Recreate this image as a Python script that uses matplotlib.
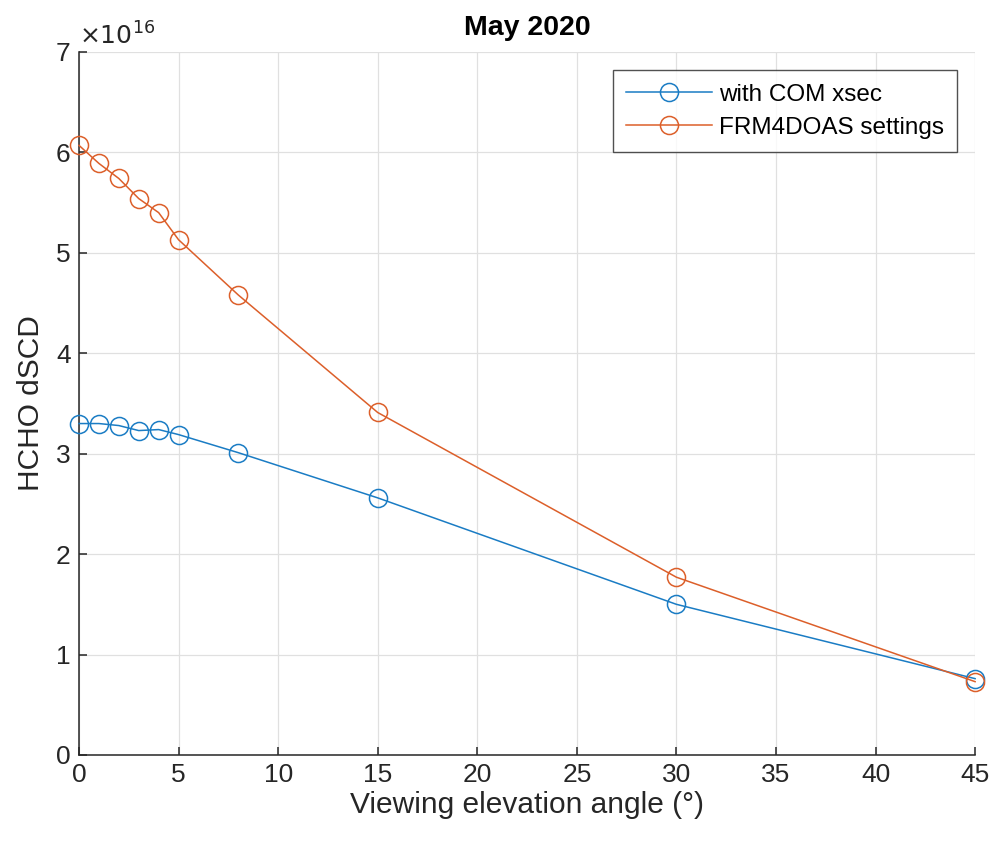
import matplotlib
matplotlib.use("Agg")
import matplotlib.pyplot as plt

plt.rcParams['font.family'] = ['Liberation Sans', 'DejaVu Sans']

angles = [0, 1, 2, 3, 4, 5, 8, 15, 30, 45]
com_xsec = [3.30, 3.30, 3.28, 3.23, 3.24, 3.19, 3.01, 2.56, 1.50, 0.76]
frm4doas = [6.07, 5.89, 5.74, 5.54, 5.40, 5.13, 4.58, 3.41, 1.77, 0.73]

fig = plt.figure(figsize=(9.95, 8.46), dpi=100)
ax = fig.add_axes([0.0794, 0.1076, 0.9006, 0.831])

blue = '#1a7cc4'
orange = '#dc5f2a'
ax.plot(angles, com_xsec, '-o', color=blue, mfc='none', ms=13, lw=1.1,
        mew=1.1, label='with COM xsec', clip_on=False, zorder=3)
ax.plot(angles, frm4doas, '-o', color=orange, mfc='none', ms=13, lw=1.1,
        mew=1.1, label='FRM4DOAS settings', clip_on=False, zorder=3)

ax.set_xlim(0, 45)
ax.set_ylim(0, 7)
ax.set_xticks(range(0, 46, 5))
ax.set_yticks(range(0, 8))
ax.grid(True, color='#e0e0e0', lw=0.9)
ax.set_axisbelow(True)

for s in ['top', 'right']:
    ax.spines[s].set_visible(False)
for s in ['left', 'bottom']:
    ax.spines[s].set_color('#262626')
    ax.spines[s].set_linewidth(1.1)
ax.tick_params(direction='in', length=6, width=1.1, colors='#262626',
               labelsize=19, pad=6)

ax.set_xlabel('Viewing elevation angle (°)', fontsize=21.5, color='#262626',
              labelpad=3)
ax.set_ylabel('HCHO dSCD', fontsize=21.5, color='#262626', labelpad=8)
ax.set_title('May 2020', fontsize=20.5, fontweight='bold', pad=12)
ax.text(0.0, 1.003, r'$\times10^{16}$', transform=ax.transAxes,
        fontsize=18, color='#262626', ha='left', va='bottom',
        math_fontfamily='dejavusans')

leg = ax.legend(loc='upper right', bbox_to_anchor=(0.98, 0.974),
                fontsize=17.5, frameon=True, fancybox=False,
                edgecolor='#262626', handlelength=3.5, handletextpad=0.3,
                borderpad=0.55, labelspacing=0.45, borderaxespad=0)
leg.get_frame().set_linewidth(1.0)

fig.savefig('out.png', dpi=100)
